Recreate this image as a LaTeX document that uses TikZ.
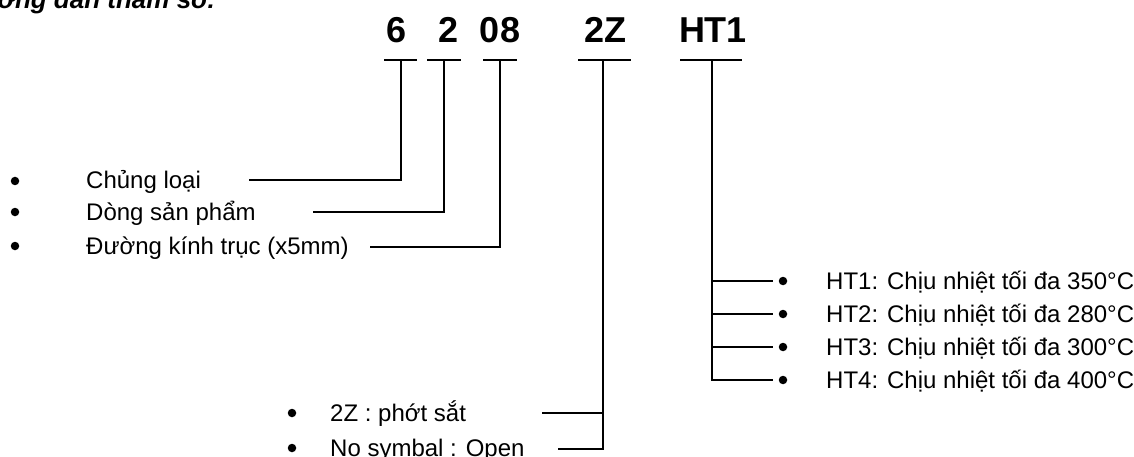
\documentclass[tikz,border=0pt]{standalone}
\usepackage{fontspec}
\setmainfont{Liberation Sans}
\begin{document}
\begin{tikzpicture}[x=1pt,y=-1pt,
  conn/.style={line width=2pt},
  code/.style={font=\fontsize{36}{40}\selectfont\bfseries, inner sep=0pt, anchor=base},
  lbl/.style={font=\fontsize{24}{28}\selectfont, inner sep=0pt, anchor=base west, yshift=-8pt},
  bul/.style={circle, fill=black, inner sep=0pt, minimum size=8.5pt}]
\path[use as bounding box] (0,0) rectangle (1134,457);
\clip (0,0) rectangle (1134,457);
% title (cut off at the top)
\node[font=\fontsize{26}{28}\selectfont\bfseries\itshape, anchor=base east, inner sep=0pt] (title) at (216,9) {Hướng dẫn tham số:};
% code parts
\node[code] (c6) at (397,43) {6};
\node[code] (c2) at (449,43) {2};
\node[code] (c08) at (500,43) {08};
\node[code] (c2z) at (605,43) {2Z};
\node[code] (cht) at (713,43) {HT1};
% ticks
\coordinate (t6a) at (384,60); \coordinate (t6b) at (417,60); \coordinate (t6) at (401,60);
\coordinate (t2a) at (427,60); \coordinate (t2b) at (461,60); \coordinate (t2) at (444,60);
\coordinate (t8a) at (483,60); \coordinate (t8b) at (517,60); \coordinate (t8) at (500,60);
\coordinate (tza) at (578,60); \coordinate (tzb) at (631,60); \coordinate (tz) at (603,60);
\coordinate (tha) at (680,60); \coordinate (thb) at (742,60); \coordinate (th) at (712,60);
\foreach \n in {t6,t2,t8,tz,th} {\draw[conn] (\n a) -- (\n b);}
% left labels
\node[bul] (b1) at (15,181) {}; \node[lbl] (l1) at (86,181) {Chủng loại};
\node[bul] (b2) at (15,212) {}; \node[lbl] (l2) at (86,212) {Dòng sản phẩm};
\node[bul] (b3) at (15,246) {}; \node[lbl] (l3) at (86,246) {Đường kính trục (x5mm)};
\coordinate (e1) at (249,180);
\coordinate (e2) at (313,212);
\coordinate (e3) at (370,247);
\draw[conn] (t6) |- (e1);
\draw[conn] (t2) |- (e2);
\draw[conn] (t8) |- (e3);
% right labels
\node[bul] (h1) at (783,281) {}; \node[lbl] (hl1) at (826,281) {HT1: Chịu nhiệt tối đa 350°C};
\node[bul] (h2) at (783,314) {}; \node[lbl] (hl2) at (826,314) {HT2: Chịu nhiệt tối đa 280°C};
\node[bul] (h3) at (783,347) {}; \node[lbl] (hl3) at (826,347) {HT3: Chịu nhiệt tối đa 300°C};
\node[bul] (h4) at (783,380) {}; \node[lbl] (hl4) at (826,380) {HT4: Chịu nhiệt tối đa 400°C};
\coordinate (f1) at (773,281);
\coordinate (f2) at (773,314);
\coordinate (f3) at (773,347);
\coordinate (f4) at (773,380);
\draw[conn] (th) |- (f4);
\foreach \i in {1,2,3} {\draw[conn] (th |- f\i) -- (f\i);}
% bottom labels
\node[bul] (z1) at (292,413) {}; \node[lbl] (zl1) at (330,413) {2Z : phớt sắt};
\node[bul] (z2) at (292,448) {}; \node[lbl] (zl2) at (330,448) {No symbal : Open};
\coordinate (g1) at (542,413);
\coordinate (g2) at (558,449);
\draw[conn] (tz) |- (g2);
\draw[conn] (tz |- g1) -- (g1);
\end{tikzpicture}
\end{document}
